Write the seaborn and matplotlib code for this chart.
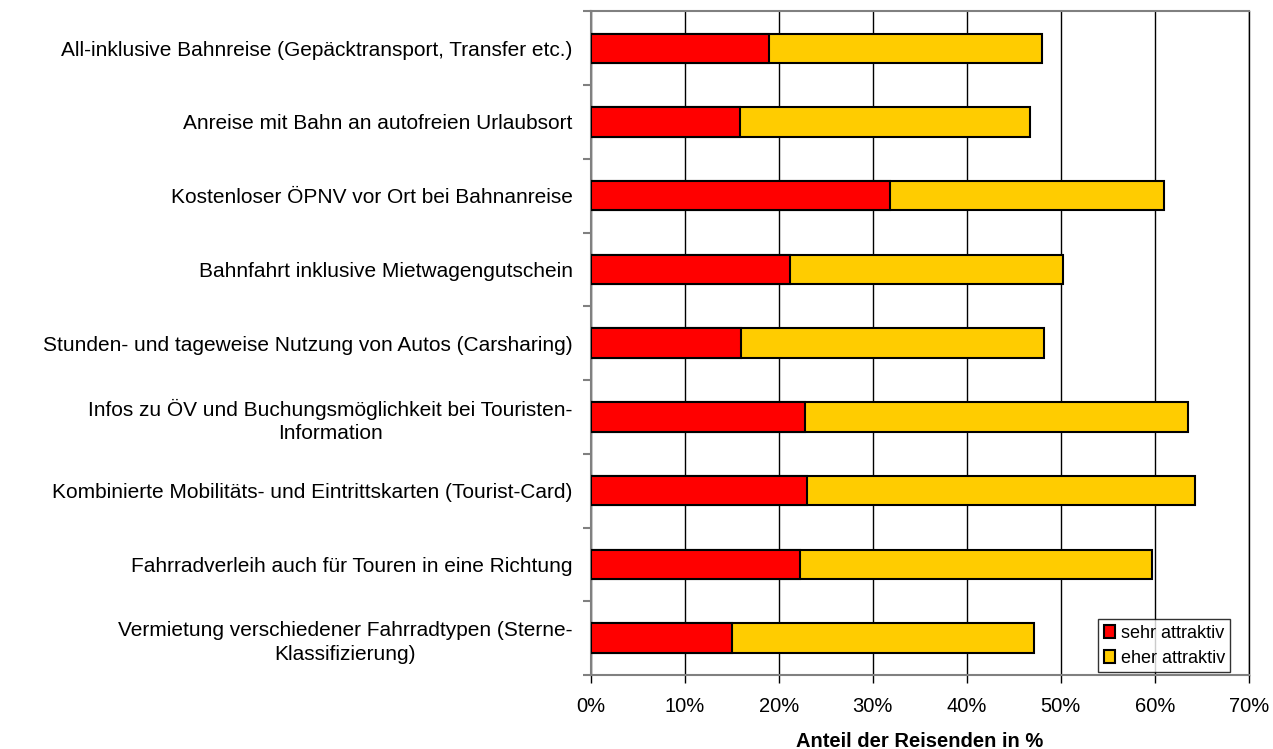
import pandas as pd
import matplotlib.pyplot as plt
from matplotlib.patches import Patch
import seaborn as sns

sns.set_theme(style="white")
plt.rcParams["font.family"] = ["Liberation Sans", "DejaVu Sans"]
plt.rcParams["text.color"] = "black"
plt.rcParams["axes.labelcolor"] = "black"
plt.rcParams["xtick.color"] = "black"
plt.rcParams["ytick.color"] = "black"

# --- data ---
kategorien = [
    "All-inklusive Bahnreise (Gepäcktransport, Transfer etc.)",
    "Anreise mit Bahn an autofreien Urlaubsort",
    "Kostenloser ÖPNV vor Ort bei Bahnanreise",
    "Bahnfahrt inklusive Mietwagengutschein",
    "Stunden- und tageweise Nutzung von Autos (Carsharing)",
    "Infos zu ÖV und Buchungsmöglichkeit bei Touristen-\nInformation",
    "Kombinierte Mobilitäts- und Eintrittskarten (Tourist-Card)",
    "Fahrradverleih auch für Touren in eine Richtung",
    "Vermietung verschiedener Fahrradtypen (Sterne-\nKlassifizierung)",
]
sehr_attraktiv = [19.0, 15.9, 31.8, 21.2, 16.0, 22.8, 23.0, 22.3, 15.0]
eher_attraktiv = [29.0, 30.8, 29.2, 29.0, 32.2, 40.7, 41.3, 37.4, 32.2]
x_ticks = [0, 10, 20, 30, 40, 50, 60, 70]

df = pd.DataFrame({"Kategorie": kategorien,
                   "sehr": sehr_attraktiv,
                   "eher": eher_attraktiv})
df["gesamt"] = df["sehr"] + df["eher"]

red = "#ff0000"
yellow = "#ffcc00"

fig = plt.figure(figsize=(12.73, 7.49), dpi=100)
ax = fig.add_axes([0.464, 0.0988, 0.517, 0.886])

# stacked bars: total in yellow, red part on top
sns.barplot(data=df, x="gesamt", y="Kategorie", orient="h", color=yellow,
            saturation=1, width=0.4, edgecolor="black", linewidth=1.5,
            ax=ax, zorder=3)
sns.barplot(data=df, x="sehr", y="Kategorie", orient="h", color=red,
            saturation=1, width=0.4, edgecolor="black", linewidth=1.5,
            ax=ax, zorder=4)

ax.set_xlim(0, 70)
ax.set_ylim(len(kategorien) - 0.5, -0.5)
ax.set_xticks(x_ticks)
ax.set_xticklabels([f"{t}%" for t in x_ticks], fontsize=14.5)
ax.grid(axis="x", color="black", linewidth=1, zorder=0)
ax.set_axisbelow(True)

# category labels, ticks between categories
ax.set_yticks(range(len(kategorien)))
ax.set_yticklabels(kategorien, fontsize=15, ha="right",
                   multialignment="center", linespacing=1.3)
ax.set_yticks([i - 0.5 for i in range(len(kategorien) + 1)], minor=True)
ax.tick_params(axis="y", which="major", length=0, pad=13)
ax.tick_params(axis="y", which="minor", length=6, color="#808080", width=1.5,
               left=True)
ax.tick_params(axis="x", which="major", length=6, color="black", width=1,
               bottom=True, pad=9.5)

for side in ["left", "bottom", "top"]:
    ax.spines[side].set_color("#808080")
    ax.spines[side].set_linewidth(1.5)
ax.spines["right"].set_color("black")
ax.spines["right"].set_linewidth(1)

ax.set_ylabel("")
ax.set_xlabel("Anteil der Reisenden in %", fontsize=14.5, fontweight="bold",
              labelpad=12)

handles = [Patch(facecolor=red, edgecolor="black", linewidth=1.5,
                 label="sehr attraktiv"),
           Patch(facecolor=yellow, edgecolor="black", linewidth=1.5,
                 label="eher attraktiv")]
leg = ax.legend(handles=handles, loc="lower right",
                bbox_to_anchor=(0.972, 0.004), fontsize=13, frameon=True,
                fancybox=False, edgecolor="black", handlelength=0.65,
                handleheight=0.7, handletextpad=0.3, borderpad=0.3,
                labelspacing=0.45, borderaxespad=0)
leg.get_frame().set_linewidth(1)
leg.set_zorder(10)

plt.savefig("out.png", dpi=100)
